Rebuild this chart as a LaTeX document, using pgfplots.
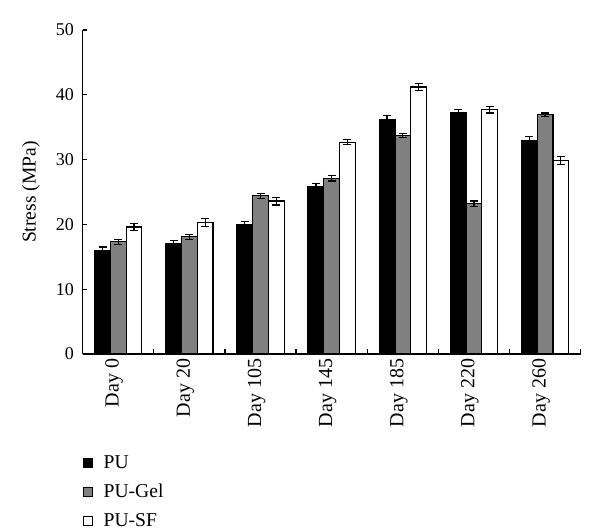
\documentclass[border=0pt]{standalone}
\usepackage{fontspec}
\setmainfont{Liberation Serif}
\usepackage{pgfplots}
\pgfplotsset{compat=1.18}
\pgfplotstableread{
x pu pue gel gele sf sfe
0 16.0 0.5 17.3 0.4 19.6 0.5
1 17.0 0.5 18.1 0.4 20.3 0.6
2 20.0 0.5 24.4 0.4 23.6 0.6
3 25.8 0.5 27.1 0.4 32.7 0.4
4 36.2 0.6 33.7 0.3 41.2 0.5
5 37.2 0.5 23.2 0.4 37.7 0.5
6 33.0 0.6 36.9 0.3 29.9 0.6
}\datatable
\begin{document}
\begin{tikzpicture}
\useasboundingbox (-62pt,-132pt) rectangle (388pt,265.5pt);
\begin{axis}[
  scale only axis, width=373.5pt, height=243pt,
  anchor=south west, at={(0pt,0pt)},
  ybar=0pt, bar width=11.8pt,
  xmin=-0.5, xmax=6.5, ymin=0, ymax=50,
  axis x line*=bottom, axis y line*=left,
  axis line style={line width=1pt},
  tick align=inside, major tick length=3.5pt, minor tick length=3.5pt,
  tick style={black, line width=1pt},
  ytick={0,10,...,50},
  xtick={0,...,6},
  xticklabels={Day 0,Day 20,Day 105,Day 145,Day 185,Day 220,Day 260},
  major x tick style={draw=none},
  minor xtick={-0.5,0.5,...,6.5},
  x tick label style={rotate=90, anchor=east, yshift=3pt, font=\fontsize{15}{17}\selectfont},
  xticklabel shift=0pt,
  y tick label style={font=\fontsize{13.5}{16}\selectfont, xshift=-3pt},
  /pgf/number format/assume math mode=true,
  ylabel={Stress (MPa)},
  ylabel style={font=\fontsize{14.7}{17}\selectfont, at={(axis description cs:-0.104,0.5)}, anchor=center},
  legend style={at={(axis description cs:0,-0.305)}, anchor=north west, draw=none, fill=none,
    font=\fontsize{14.7}{17}\selectfont, row sep=6.3pt, inner sep=0pt,
    /tikz/every odd column/.append style={column sep=6pt}},
  legend cell align=left,
  legend image code/.code={\draw[#1,line width=0.8pt] (0pt,-3.4pt) rectangle (6.75pt,3.4pt);},
  error bars/error bar style={black, line width=0.9pt},
  error bars/error mark options={rotate=90, mark size=3pt, line width=0.9pt, black},
]
\addplot[draw=black, fill=black, line width=0.9pt,
  error bars/.cd, y dir=both, y explicit] table[x=x, y=pu, y error=pue]{\datatable};
\addplot[draw=black, fill={rgb,255:red,128;green,128;blue,128}, line width=0.9pt,
  error bars/.cd, y dir=both, y explicit] table[x=x, y=gel, y error=gele]{\datatable};
\addplot[draw=black, fill=white, line width=0.9pt,
  error bars/.cd, y dir=both, y explicit] table[x=x, y=sf, y error=sfe]{\datatable};
\legend{PU,PU-Gel,PU-SF}
\end{axis}
\end{tikzpicture}
\end{document}
